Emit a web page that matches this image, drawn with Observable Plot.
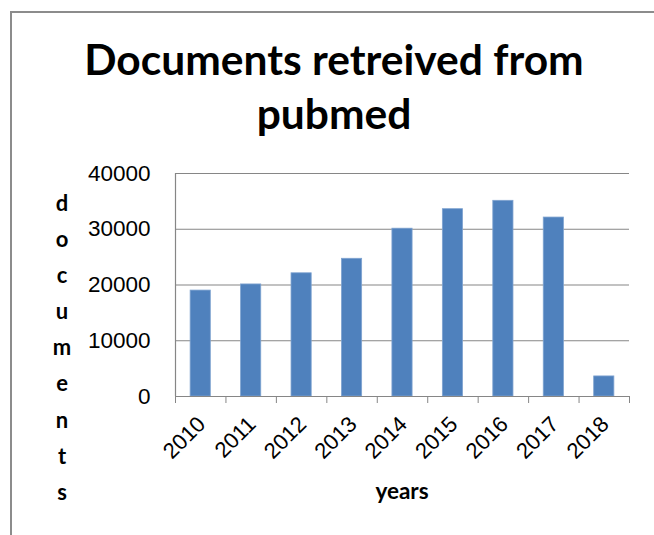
<!DOCTYPE html>
<html>
<head>
<meta charset="utf-8">
<script src="https://cdn.jsdelivr.net/npm/d3@7"></script>
<script src="https://cdn.jsdelivr.net/npm/@observablehq/plot@0.6"></script>
<style>
  body { margin: 0; background: #fff; }
  #wrap { position: relative; width: 654px; height: 535px; overflow: hidden; background: #fff; font-family: "Liberation Sans", Arial, sans-serif; }
  #frame { position: absolute; left: 10px; top: 11px; width: 700px; height: 600px; border-top: 2px solid #8c8c8c; border-left: 2px solid #8c8c8c; }
  #title { position: absolute; left: 10px; top: 32px; width: 648px; text-align: center; font-family: Lato, "Open Sans", sans-serif; font-weight: bold; font-size: 42.5px; line-height: 54px; color: #000; }
  #ylabel { position: absolute; left: 47px; top: 185px; width: 30px; text-align: center; font-family: Lato, sans-serif; font-weight: bold; font-size: 22px; line-height: 36.1px; color: #000; }
  #xlabel { position: absolute; left: 302px; width: 200px; top: 477px; text-align: center; font-family: Lato, sans-serif; font-weight: bold; font-size: 22.5px; color: #000; }
  #chart { position: absolute; left: 0; top: 150px; }
</style>
</head>
<body>
<div id="wrap">
  <div id="frame"></div>
  <div id="title">Documents retreived from<br>pubmed</div>
  <div id="ylabel"></div>
  <div id="xlabel">years</div>
  <div id="chart"></div>
</div>
<script>
const years = [2010, 2011, 2012, 2013, 2014, 2015, 2016, 2017, 2018];
const documents = [19000, 20100, 22100, 24700, 30100, 33600, 35100, 32100, 3600];
const yTicks = [0, 10000, 20000, 30000, 40000];
const yLabelText = "documents";
const xLabelText = "years";

const data = years.map((year, i) => ({year, docs: documents[i]}));
const xDomain = [years[0] - 0.5, years[years.length - 1] + 0.5];
const boundaries = years.map(y => y - 0.5).concat([years[years.length - 1] + 0.5]);

document.getElementById("ylabel").innerHTML = yLabelText.split("").join("<br>");
document.getElementById("xlabel").textContent = xLabelText;

const chart = Plot.plot({
  width: 654,
  height: 385,
  marginTop: 23,
  marginBottom: 139,
  marginLeft: 175,
  marginRight: 25,
  style: {fontFamily: "'Liberation Sans', Arial, sans-serif", fontSize: "20px", color: "#000", background: "transparent"},
  x: {type: "linear", domain: xDomain},
  y: {domain: [0, 40000]},
  marks: [
    Plot.gridY(yTicks, {stroke: "#868686", strokeOpacity: 1, strokeWidth: 1.2}),
    Plot.rectY(data, {x1: d => d.year - 0.2, x2: d => d.year + 0.2, y: "docs", fill: "#4f81bd", stroke: "#7fa3d0", strokeWidth: 0.8}),
    Plot.ruleY([0], {stroke: "#868686", strokeWidth: 1.2}),
    Plot.ruleX([xDomain[0]], {stroke: "#868686", strokeWidth: 1.2}),
    Plot.axisY({ticks: yTicks, tickSize: 0, tickPadding: 25, tickFormat: d => String(d), fontSize: 22.5, label: null}),
    Plot.axisX({ticks: boundaries, tickSize: 7, tickFormat: () => "", stroke: "#868686", label: null}),
    Plot.axisX({ticks: years, tickSize: 0, tickPadding: 24, dx: 1, tickRotate: -45, tickFormat: d => String(d), fontSize: 22, label: null})
  ]
});
document.getElementById("chart").appendChild(chart);
</script>
</body>
</html>
